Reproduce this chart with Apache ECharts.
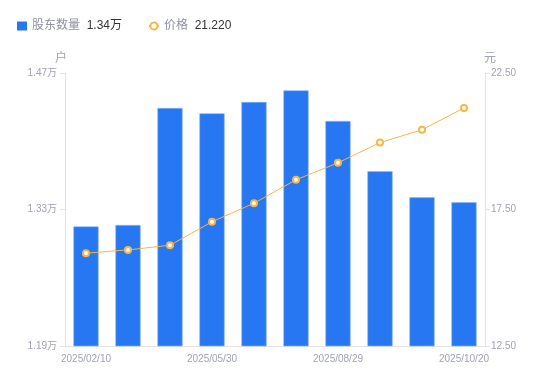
<!DOCTYPE html>
<html><head><meta charset="utf-8">
<script src="https://cdn.jsdelivr.net/npm/echarts@6/dist/echarts.min.js"></script>
<style>html,body{margin:0;padding:0;background:#fff}#c{width:550px;height:381px}</style>
</head><body><div id="c"></div>
<script>
var categories = ['2025/02/10','2025/03/10','2025/03/31','2025/05/30','2025/06/30','2025/07/31','2025/08/29','2025/09/10','2025/09/30','2025/10/20'];
var holders = [1.3126, 1.3141, 1.4341, 1.4286, 1.4403, 1.4522, 1.4208, 1.3692, 1.3425, 1.3374];
var prices = [15.90, 16.02, 16.19, 17.05, 17.73, 18.59, 19.21, 19.95, 20.42, 21.22];
var legendValues = {'股东数量': '1.34万', '价格': '21.220'};

var FONT = '"Liberation Sans", Arial, "Noto Sans CJK SC", sans-serif';
var chart = echarts.init(document.getElementById('c'));
var grey = '#a0a3b0';
chart.setOption({
  animation: false,
  textStyle: {fontFamily: FONT},
  legend: {
    left: 12, top: 15, itemGap: 26, itemWidth: 10, itemHeight: 9,
    data: [{name: '股东数量', icon: 'rect', itemStyle: {color: '#2776f2', borderWidth: 0}}, {name: '价格'}],
    formatter: function (n) { return '{a|' + n + '}  {b|' + legendValues[n] + '}'; },
    textStyle: {rich: {a: {color: '#8e929e', fontSize: 12, fontFamily: FONT}, b: {color: '#333', fontSize: 12, fontFamily: FONT}}}
  },
  grid: {left: 65, right: 65, top: 73, bottom: 35},
  xAxis: {
    type: 'category', data: categories,
    axisLine: {lineStyle: {color: '#e3e3e6'}},
    axisTick: {show: false},
    axisLabel: {color: grey, fontSize: 10, interval: 2, margin: 8}
  },
  yAxis: [{
    type: 'value', min: 1.19, max: 1.47, interval: 0.14,
    name: '户', nameTextStyle: {color: grey, fontSize: 12, padding: [0, 0, 0, -8]}, nameGap: 8,
    axisLine: {show: true, lineStyle: {color: '#e3e3e6'}},
    axisTick: {show: true, length: 5, lineStyle: {color: '#e3e3e6'}},
    splitLine: {show: false},
    axisLabel: {color: grey, fontSize: 10, margin: 8,
      formatter: function (v) { return v.toFixed(2) + '万'; }}
  }, {
    type: 'value', min: 12.5, max: 22.5, interval: 5,
    name: '元', nameTextStyle: {color: grey, fontSize: 12, padding: [0, 0, 0, 10]}, nameGap: 8,
    axisLine: {show: true, lineStyle: {color: '#e3e3e6'}},
    axisTick: {show: true, length: 5, lineStyle: {color: '#e3e3e6'}},
    splitLine: {show: false},
    axisLabel: {color: grey, fontSize: 10, margin: 6,
      formatter: function (v) { return v.toFixed(2); }}
  }],
  series: [{
    name: '股东数量', type: 'bar', data: holders, barWidth: '60%', yAxisIndex: 0,
    itemStyle: {color: '#2776f2', borderColor: '#8db7f8', borderWidth: 0.6}
  }, {
    name: '价格', type: 'line', data: prices, yAxisIndex: 1,
    symbol: 'circle', symbolSize: 6,
    lineStyle: {color: '#f8b646', width: 1},
    itemStyle: {color: '#fff', borderColor: '#f8b646', borderWidth: 2}
  }]
});
</script></body></html>
